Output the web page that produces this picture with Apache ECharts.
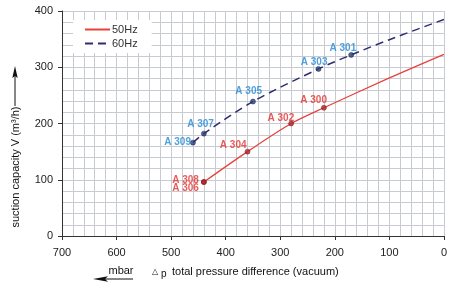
<!DOCTYPE html>
<html>
<head>
<meta charset="UTF-8">
<title>suction capacity</title>
<script src="https://cdn.jsdelivr.net/npm/echarts@6/dist/echarts.min.js"></script>
<style>
  html, body { margin: 0; padding: 0; background: #fff; }
  #main { width: 450px; height: 283px; }
</style>
</head>
<body>
<div id="main"></div>
<script>
// curve points: [pressure difference mbar, capacity m3/h]
var curve50 = [[440, 96], [360, 150], [280, 200], [220, 228], [100, 281], [0, 323]];
var curve60 = [[460, 166], [440, 182], [350, 239], [230, 297], [170, 322], [100, 349], [0, 385]];

// marked points with their type names
var pts50 = [[440, 96], [440, 96], [360, 150], [280, 200], [220, 228]];
var names50 = ['A 308', 'A 306', 'A 304', 'A 302', 'A 300'];
var pts60 = [[460, 166], [440, 182], [350, 239], [230, 297], [170, 322]];
var names60 = ['A 309', 'A 307', 'A 305', 'A 303', 'A 301'];

var xTicks = [0, 100, 200, 300, 400, 500, 600, 700];
var yTicks = [0, 100, 200, 300, 400];

// label placement (centre offset from the point, px)
var off50 = [[-18, -1], [-18, 7], [-14, -6], [-10, -5], [-10, -7]];
var off60 = [[-15, 0], [-3, -9], [-4, -10], [-4, -6], [-8, -6]];

var font = "'Liberation Sans', Arial, sans-serif";

function marks(pts, names, offs, color) {
  return pts.map(function (p, i) {
    return {
      value: p,
      name: names[i],
      label: {
        show: true,
        formatter: names[i],
        position: [2.5 + offs[i][0], 2.5 + offs[i][1]],
        align: 'center',
        verticalAlign: 'middle',
        color: color,
        fontSize: 10,
        fontWeight: 'bold',
        fontFamily: font
      }
    };
  });
}

var gridColor = '#c9cbd3';
var axisColor = '#333';

var myChart = echarts.init(document.getElementById('main'));
myChart.setOption({
  backgroundColor: '#fff',
  animation: false,
  grid: { left: 62, right: 2, top: 11, bottom: 47 },
  legend: {
    orient: 'vertical',
    left: 73,
    top: 20,
    backgroundColor: '#fff',
    padding: [4, 14, 4, 11],
    itemGap: 3,
    itemWidth: 25,
    itemHeight: 10,
    itemStyle: { opacity: 0 },
    textStyle: { fontSize: 11, color: '#333', fontFamily: font, padding: [0, 0, 0, -3] },
    data: ['50Hz', '60Hz']
  },
  xAxis: {
    type: 'value',
    inverse: true,
    min: xTicks[0],
    max: xTicks[xTicks.length - 1],
    interval: 100,
    axisLine: { show: true, onZero: false, lineStyle: { color: axisColor, width: 1 } },
    axisTick: { show: true, length: 4, lineStyle: { color: axisColor } },
    axisLabel: { fontSize: 11, color: '#222', fontFamily: font, margin: 11 },
    splitLine: { show: true, lineStyle: { color: gridColor, width: 1 } },
    minorTick: { show: false, splitNumber: 5 },
    minorSplitLine: { show: true, lineStyle: { color: gridColor, width: 1 } }
  },
  yAxis: {
    type: 'value',
    min: yTicks[0],
    max: yTicks[yTicks.length - 1],
    interval: 100,
    axisLine: { show: true, onZero: false, lineStyle: { color: axisColor, width: 1 } },
    axisTick: { show: true, length: 4, lineStyle: { color: axisColor } },
    axisLabel: { fontSize: 11, color: '#222', fontFamily: font, margin: 9 },
    splitLine: { show: true, lineStyle: { color: gridColor, width: 1 } },
    minorTick: { show: false, splitNumber: 5 },
    minorSplitLine: { show: true, lineStyle: { color: gridColor, width: 1 } }
  },
  series: [
    {
      name: '50Hz',
      type: 'line',
      data: curve50,
      smooth: 0.3,
      symbol: 'none',
      lineStyle: { color: '#e8413c', width: 1.3 },
      itemStyle: { color: '#e8413c' },
      z: 3
    },
    {
      name: '60Hz',
      type: 'line',
      data: curve60,
      smooth: 0.3,
      symbol: 'none',
      lineStyle: { color: '#2e2d72', width: 1.5, type: [8, 5] },
      itemStyle: { color: '#2e2d72' },
      z: 3
    },
    {
      type: 'scatter',
      data: marks(pts50, names50, off50, '#e3312e'),
      symbol: 'circle',
      symbolSize: 5,
      itemStyle: { color: '#b3262a', borderColor: '#6b1416', borderWidth: 0.6 },
      z: 4
    },
    {
      type: 'scatter',
      data: marks(pts60, names60, off60, '#2489d4'),
      symbol: 'circle',
      symbolSize: 5,
      itemStyle: { color: '#2a3f78', borderColor: '#141f45', borderWidth: 0.6 },
      z: 4
    }
  ],
  graphic: [
    {
      type: 'text',
      x: 16, y: 167,
      rotation: Math.PI / 2,
      style: {
        text: 'suction capacity V (m\u00b3/h)',
        fontSize: 11, fontFamily: font, fill: '#111',
        textAlign: 'center', textVerticalAlign: 'middle'
      }
    },
    { type: 'line', shape: { x1: 15, y1: 106, x2: 15, y2: 74 }, style: { stroke: '#111', lineWidth: 1 } },
    { type: 'polygon', shape: { points: [[15, 66], [12.3, 78], [15, 76], [17.7, 78]] }, style: { fill: '#111' } },
    {
      type: 'text', x: 121, y: 271,
      style: { text: 'mbar', fontSize: 11, fontFamily: font, fill: '#111', textAlign: 'center', textVerticalAlign: 'middle' }
    },
    { type: 'line', shape: { x1: 100, y1: 279, x2: 133, y2: 279 }, style: { stroke: '#111', lineWidth: 1 } },
    { type: 'polygon', shape: { points: [[93, 279], [108, 276.3], [105, 279], [108, 281.7]] }, style: { fill: '#111' } },
    {
      type: 'text', x: 152, y: 272,
      style: { text: '\u25b3', fontSize: 8, fontFamily: font, fill: '#111', textVerticalAlign: 'middle' }
    },
    {
      type: 'text', x: 161, y: 274,
      style: { text: 'p', fontSize: 10, fontFamily: font, fill: '#111', textVerticalAlign: 'middle' }
    },
    {
      type: 'text', x: 172, y: 272,
      style: { text: 'total pressure difference (vacuum)', fontSize: 11, fontFamily: font, fill: '#111', textVerticalAlign: 'middle' }
    }
  ]
});
</script>
</body>
</html>
